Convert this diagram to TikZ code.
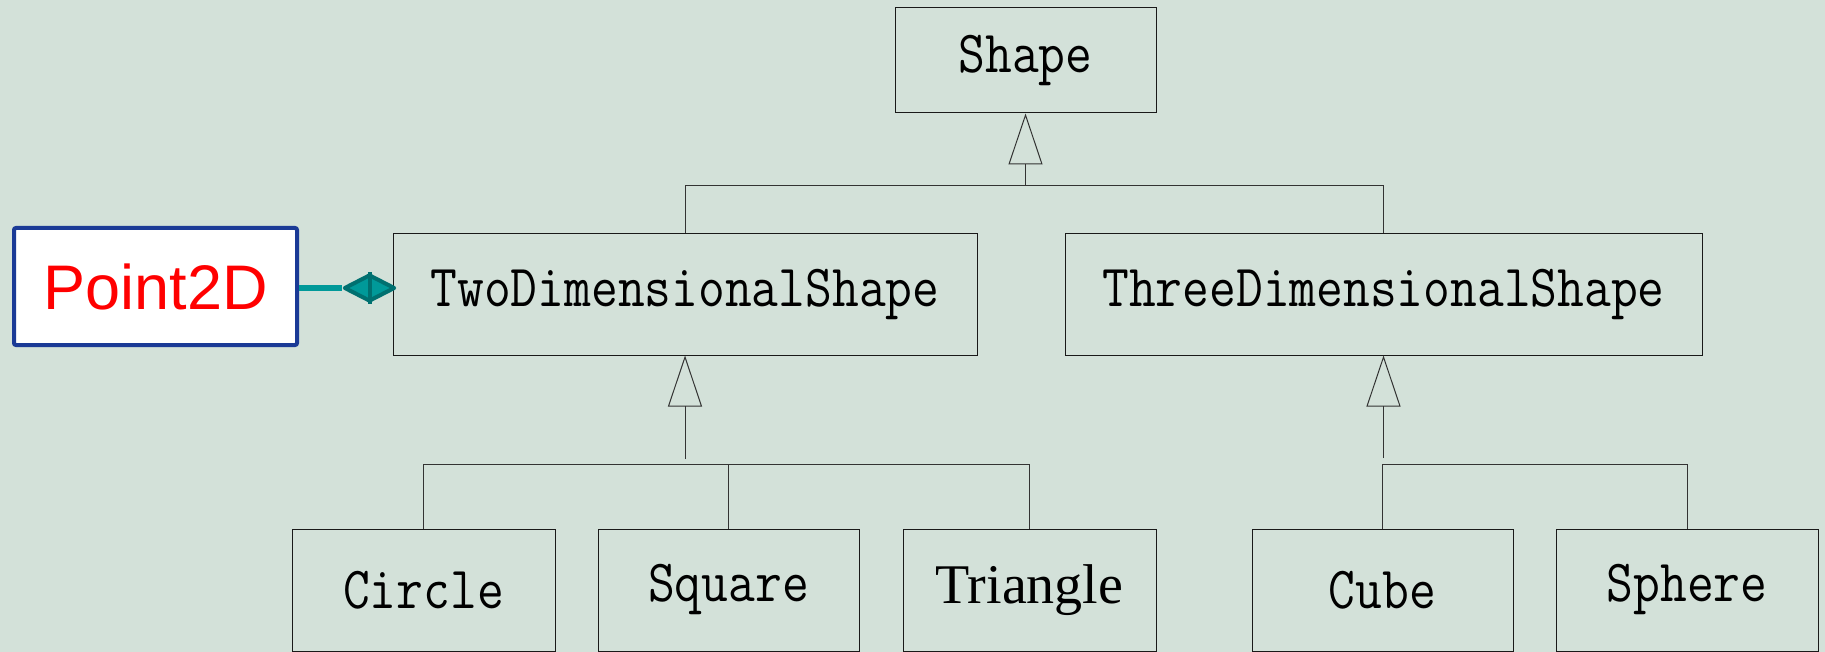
\documentclass[tikz,border=0pt]{standalone}
\usepackage{fontspec}
\usepackage{graphicx}
\usetikzlibrary{arrows.meta,shapes.geometric}
\newfontfamily\arialfont{Liberation Sans}
\newfontfamily\timesfont{Liberation Serif}
\definecolor{bgcol}{RGB}{211,225,217}
\definecolor{ptblue}{RGB}{26,58,150}
\definecolor{tealmid}{RGB}{0,153,153}
\definecolor{tealdark}{RGB}{0,112,112}
\newcommand{\clsname}[1]{\scalebox{1}[1.15]{#1}}
\begin{document}
\begin{tikzpicture}[x=0.5pt,y=-0.5pt,
  cls/.style={draw=black!90,line width=0.5pt,minimum height=60.5pt,inner sep=0pt,
    font=\fontsize{26}{30}\selectfont\ttfamily},
  leaf/.style={cls,minimum height=61pt},
  link/.style={draw=black!80,line width=0.5pt},
  inh/.style={link,-{Triangle[open,length=25.5pt,width=17pt]}}]
  \fill[bgcol] (0,0) rectangle (1825,652);
  \useasboundingbox (0,0) rectangle (1825,652);

  \node[cls,minimum width=130.5pt,minimum height=52.5pt] (shape) at (1025.5,60.5) {\clsname{Shape}};
  \node[cls,minimum width=292pt] (two) at (685,294.5) {\clsname{TwoDimensionalShape}};
  \node[cls,minimum width=318.5pt] (three) at (1383.5,294.5) {\clsname{ThreeDimensionalShape}};
  \node[draw=ptblue,line width=2pt,fill=white,rounded corners=1pt,minimum width=141.5pt,
    minimum height=58.5pt,inner sep=0pt,text=red,font=\fontsize{31.5}{36}\selectfont\arialfont]
    (point) at (155.5,286.5) {Point2D};

  \node[leaf,minimum width=131.5pt] (circle) at (423.5,590) {\clsname{Circle}};
  \node[leaf,minimum width=130.5pt] (square) at (728.5,590) {\clsname{Square}};
  \node[leaf,minimum width=126.5pt,font=\fontsize{28}{32}\selectfont\timesfont] (triangle) at (1029.5,590) {Triangle};
  \node[leaf,minimum width=130.5pt] (cube) at (1382.5,590) {\clsname{Cube}};
  \node[leaf,minimum width=131pt] (sphere) at (1687,590) {\clsname{Sphere}};

  \node[diamond,draw=tealdark,fill=tealmid,line width=2pt,line join=round,inner sep=0pt,
    minimum width=25.5pt,minimum height=13.5pt] (comp) at (369.5,288) {};
  \draw[tealdark,line width=2pt] (comp.north) -- (comp.south);
  \draw[tealmid,line width=2.5pt] (point.east |- comp.west) -- (comp.west);

  \coordinate (topbar) at (0,186);
  \coordinate (lowbar) at (0,464);
  \coordinate (twostem) at (685,459);
  \coordinate (threestem) at (1383.5,458);

  \draw[inh] (shape.south |- topbar) -- (shape.south);
  \draw[link] (two.north) -- (two.north |- topbar) -- (three.north |- topbar) -- (three.north);

  \draw[inh] (twostem) -- (two.south);
  \draw[link] (circle.north) -- (circle.north |- lowbar) -- (triangle.north |- lowbar) -- (triangle.north);
  \draw[link] (square.north) -- (square.north |- lowbar);

  \draw[inh] (threestem) -- (three.south);
  \draw[link] (cube.north) -- (cube.north |- lowbar) -- (sphere.north |- lowbar) -- (sphere.north);
\end{tikzpicture}
\end{document}
